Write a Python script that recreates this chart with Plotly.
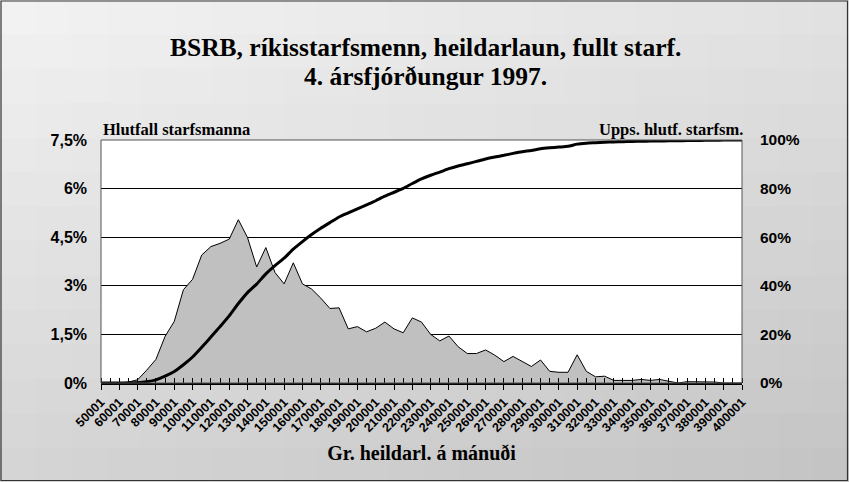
import plotly.graph_objects as go

categories = [50001, 55001, 60001, 65001, 70001, 75001, 80001, 85001, 90001, 95001,
              100001, 105001, 110001, 115001, 120001, 125001, 130001, 135001, 140001, 145001,
              150001, 155001, 160001, 165001, 170001, 175001, 180001, 185001, 190001, 195001,
              200001, 205001, 210001, 215001, 220001, 225001, 230001, 235001, 240001, 245001,
              250001, 255001, 260001, 265001, 270001, 275001, 280001, 285001, 290001, 295001,
              300001, 305001, 310001, 315001, 320001, 325001, 330001, 335001, 340001, 345001,
              350001, 355001, 360001, 365001, 370001, 375001, 380001, 385001, 390001, 395001,
              400001]

share_pct = [0, 0, 0, 0.03, 0.1, 0.4, 0.73, 1.44, 1.9, 2.88,
             3.2, 3.95, 4.21, 4.31, 4.44, 5.04, 4.49, 3.58, 4.18, 3.41,
             3.06, 3.71, 3.06, 2.9, 2.62, 2.3, 2.32, 1.67, 1.74, 1.58,
             1.69, 1.88, 1.67, 1.55, 2.01, 1.88, 1.5, 1.3, 1.45, 1.12,
             0.91, 0.91, 1.02, 0.86, 0.66, 0.82, 0.66, 0.51, 0.71, 0.36,
             0.33, 0.33, 0.87, 0.36, 0.19, 0.21, 0.08, 0.08, 0.08, 0.11,
             0.08, 0.11, 0.05, 0, 0.04, 0.04, 0.05, 0.03, 0, 0, 0]

cumulative_pct = [0, 0, 0, 0.05, 0.15, 0.55, 1.3, 2.8, 4.7, 7.5,
                  10.7, 14.7, 18.9, 23.2, 27.6, 32.7, 37.2, 40.7, 44.9, 48.3,
                  51.4, 55.1, 58.2, 61.1, 63.7, 66.0, 68.3, 70.0, 71.7, 73.3,
                  75.0, 76.9, 78.5, 80.1, 82.1, 84.0, 85.5, 86.8, 88.2, 89.3,
                  90.2, 91.2, 92.2, 93.0, 93.7, 94.5, 95.2, 95.7, 96.4, 96.8,
                  97.1, 97.4, 98.3, 98.7, 98.9, 99.1, 99.2, 99.3, 99.4, 99.5,
                  99.55, 99.6, 99.65, 99.7, 99.75, 99.8, 99.85, 99.9, 99.95, 100, 100]

title_lines = ["BSRB, ríkisstarfsmenn, heildarlaun, fullt starf.", "4. ársfjórðungur 1997."]
x_tick_vals = categories[::2]
x_tick_text = [str(v) for v in x_tick_vals]
left_tick_vals = [0, 1.5, 3, 4.5, 6, 7.5]
left_tick_text = ["0%", "1,5%", "3%", "4,5%", "6%", "7,5%"]
right_tick_vals = [0, 20, 40, 60, 80, 100]
right_tick_text = ["0%", "20%", "40%", "60%", "80%", "100%"]

W, H = 849, 482
L, R, T, B = 101, 742, 140, 383
pw, ph = R - L, B - T


def px_to_paper_x(X):
    return (X - L) / pw


def px_to_paper_y(Y):
    return (B - Y) / ph


shapes = []
# stepped diagonal gradient background
nx, ny = 24, 14
for ix in range(nx):
    for iy in range(ny):
        x0 = ix * W / nx
        x1 = (ix + 1) * W / nx + 1
        y0 = iy * H / ny
        y1 = (iy + 1) * H / ny + 1
        cx = (ix + 0.5) / nx
        cy = (iy + 0.5) / ny
        g = int(round(243 - 48 * (0.35 * cx + 0.65 * cy)))
        shapes.append(dict(type="rect", xref="paper", yref="paper", layer="below",
                           x0=px_to_paper_x(x0), x1=px_to_paper_x(x1),
                           y0=px_to_paper_y(y1), y1=px_to_paper_y(y0),
                           fillcolor=f"rgb({g},{g},{g})", line=dict(width=0)))
# plot area white
shapes.append(dict(type="rect", xref="paper", yref="paper", layer="below",
                   x0=0, x1=1, y0=0, y1=1, fillcolor="white", line=dict(width=0)))
# outer frame
shapes.append(dict(type="rect", xref="paper", yref="paper", layer="above",
                   x0=px_to_paper_x(1), x1=px_to_paper_x(W - 1.5),
                   y0=px_to_paper_y(H - 1.5), y1=px_to_paper_y(1),
                   fillcolor="rgba(0,0,0,0)", line=dict(width=1.2, color="#333333")))
# plot area frame
shapes.append(dict(type="rect", xref="paper", yref="paper", layer="above",
                   x0=0, x1=1, y0=0, y1=1,
                   fillcolor="rgba(0,0,0,0)", line=dict(width=1, color="#555555")))

fig = go.Figure()
fig.add_trace(go.Scatter(x=categories, y=share_pct, mode="lines", fill="tozeroy",
                         fillcolor="#c0c0c0", line=dict(color="black", width=1),
                         showlegend=False, yaxis="y"))
fig.add_trace(go.Scatter(x=categories, y=cumulative_pct, mode="lines",
                         line=dict(color="black", width=3, shape="spline", smoothing=0.6),
                         showlegend=False, yaxis="y2"))

serif = "Liberation Serif, Times New Roman, serif"
sans = "Liberation Sans, Arial, sans-serif"

annotations = [
    dict(text=f"<b>{title_lines[0]}</b>", xref="paper", yref="paper",
         x=px_to_paper_x(425), y=px_to_paper_y(47), xanchor="center", yanchor="middle",
         showarrow=False, font=dict(family=serif, size=25.5, color="black")),
    dict(text=f"<b>{title_lines[1]}</b>", xref="paper", yref="paper",
         x=px_to_paper_x(425), y=px_to_paper_y(76), xanchor="center", yanchor="middle",
         showarrow=False, font=dict(family=serif, size=25.5, color="black")),
    dict(text="<b>Hlutfall starfsmanna</b>", xref="paper", yref="paper",
         x=0, y=px_to_paper_y(129), xanchor="left", yanchor="middle",
         showarrow=False, font=dict(family=serif, size=16.5, color="black")),
    dict(text="<b>Upps. hlutf. starfsm.</b>", xref="paper", yref="paper",
         x=px_to_paper_x(745), y=px_to_paper_y(129), xanchor="right", yanchor="middle",
         showarrow=False, font=dict(family=serif, size=16.5, color="black")),
]

fig.update_layout(
    width=W, height=H,
    margin=dict(l=L, r=W - R, t=T, b=H - B, pad=0),
    paper_bgcolor="#d8d8d8",
    plot_bgcolor="rgba(0,0,0,0)",
    shapes=shapes,
    xaxis=dict(range=[categories[0], categories[-1]], tickmode="array",
               tickvals=x_tick_vals, ticktext=x_tick_text, tickangle=-45,
               tickfont=dict(family=sans, size=12.5, color="black", weight="bold"),
               ticks="outside", ticklen=5, tickcolor="black", tickwidth=1,
               minor=dict(dtick=5000, tick0=categories[1], ticks="inside", ticklen=5,
                          tickcolor="black", tickwidth=1, showgrid=False),
               showline=True, linecolor="black", linewidth=2,
               showgrid=False, zeroline=False,
               title=dict(text="<b>Gr. heildarl. á mánuði</b>",
                          font=dict(family=serif, size=20, color="black"), standoff=12)),
    yaxis=dict(range=[0, 7.5], tickmode="array", tickvals=left_tick_vals,
               ticktext=left_tick_text,
               tickfont=dict(family=sans, size=16, color="black", weight="bold"),
               showgrid=True, gridcolor="black", gridwidth=1,
               zeroline=False, showline=False, ticks="", ticklabelstandoff=13),
    yaxis2=dict(range=[0, 100], tickmode="array", tickvals=right_tick_vals,
                ticktext=right_tick_text, overlaying="y", side="right",
                tickfont=dict(family=sans, size=15.5, color="black", weight="bold"),
                showgrid=False, zeroline=False, showline=False, ticks="",
                ticklabelstandoff=17),
    annotations=annotations,
)

fig.write_html("out.html", config={"displayModeBar": False},
               post_script="document.body.style.margin='0';document.body.style.padding='0';"
                           "document.body.style.overflow='hidden';")
